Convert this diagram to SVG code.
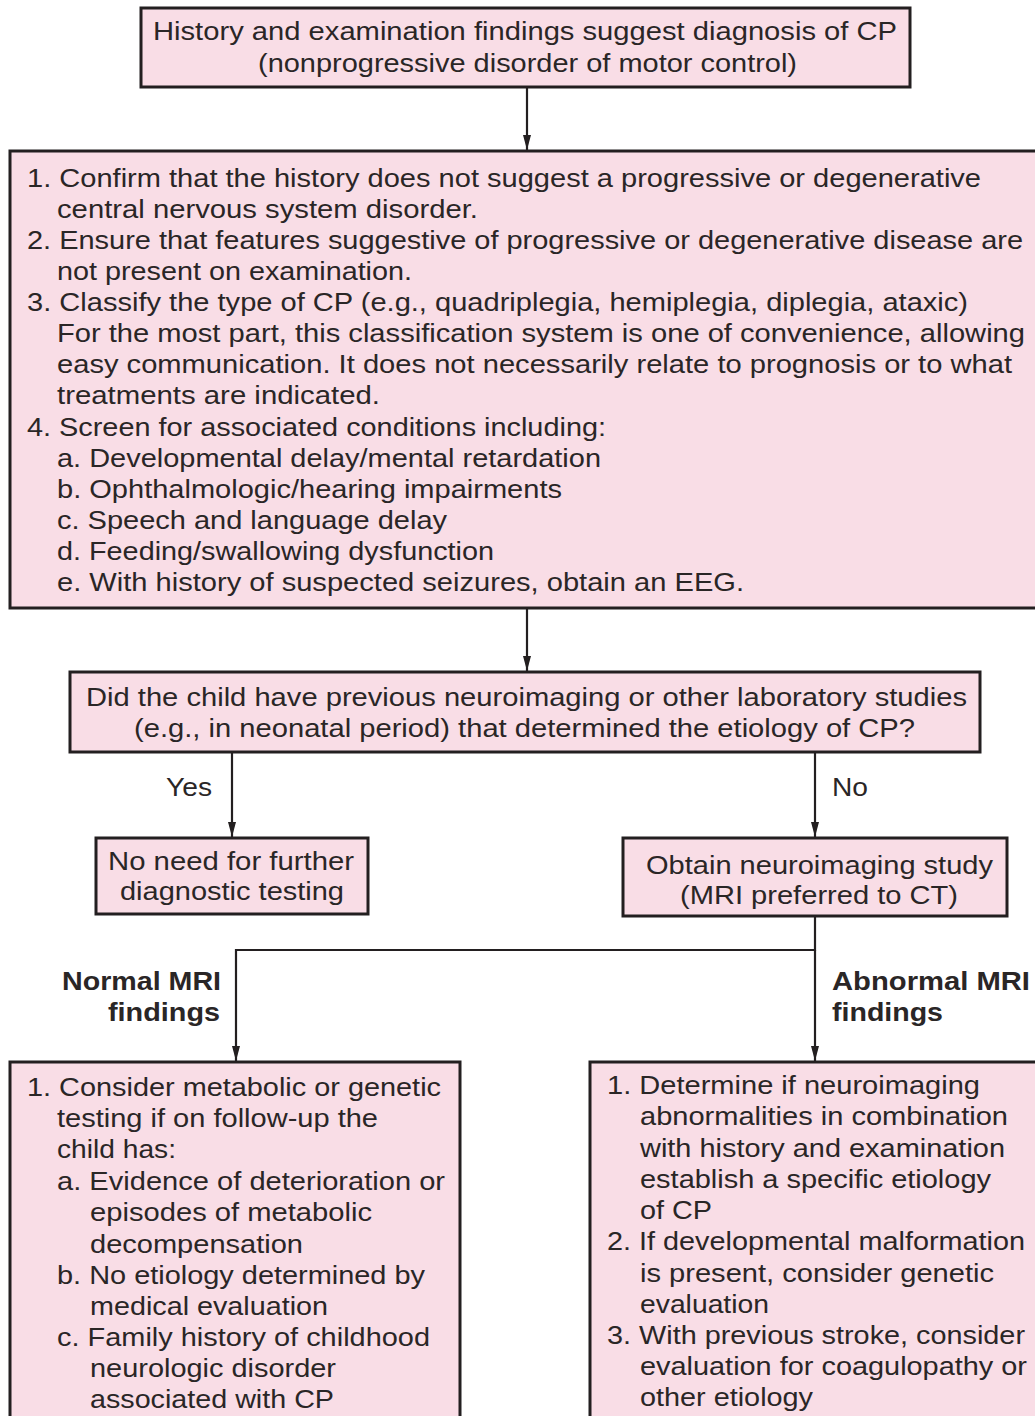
<svg xmlns="http://www.w3.org/2000/svg" width="1035" height="1416" viewBox="0 0 1035 1416">
<style>
.box{fill:#f9dde6;stroke:#231f20;stroke-width:3}
.t{font-family:"Liberation Sans",Arial,sans-serif;font-size:26px;fill:#2a2626}
.b{font-weight:bold}
.c{fill:none;stroke:#231f20;stroke-width:2.2}
</style>
<defs>
<marker id="ah" viewBox="0 -4 15 8" refX="15" refY="0" markerWidth="15" markerHeight="8" markerUnits="userSpaceOnUse" orient="auto">
<path d="M0,-4 L15,0 L0,4 z" fill="#231f20"/>
</marker>
</defs>
<rect width="1035" height="1416" fill="#ffffff"/>
<g id="connectors">
<line class="c" x1="527" y1="88" x2="527" y2="150" marker-end="url(#ah)"/>
<line class="c" x1="527" y1="609" x2="527" y2="671" marker-end="url(#ah)"/>
<line class="c" x1="232" y1="753" x2="232" y2="837" marker-end="url(#ah)"/>
<line class="c" x1="815" y1="753" x2="815" y2="837" marker-end="url(#ah)"/>
<polyline class="c" points="815,917 815,950 236,950 236,1061" marker-end="url(#ah)"/>
<line class="c" x1="815" y1="950" x2="815" y2="1061" marker-end="url(#ah)"/>
<text class="t" x="166" y="796" textLength="46" lengthAdjust="spacingAndGlyphs">Yes</text>
<text class="t" x="832" y="796" textLength="36" lengthAdjust="spacingAndGlyphs">No</text>
<text class="t b" x="62" y="990" textLength="159" lengthAdjust="spacingAndGlyphs">Normal MRI</text>
<text class="t b" x="108" y="1021" textLength="112" lengthAdjust="spacingAndGlyphs">findings</text>
<text class="t b" x="832" y="990" textLength="198" lengthAdjust="spacingAndGlyphs">Abnormal MRI</text>
<text class="t b" x="832" y="1021" textLength="111" lengthAdjust="spacingAndGlyphs">findings</text>
</g>
<g id="n1">
<rect class="box" x="141" y="8" width="769" height="79"/>
<text class="t" x="153" y="40" textLength="744" lengthAdjust="spacingAndGlyphs">History and examination findings suggest diagnosis of CP</text>
<text class="t" x="258" y="72" textLength="539" lengthAdjust="spacingAndGlyphs">(nonprogressive disorder of motor control)</text>
</g>
<g id="n2">
<rect class="box" x="10" y="151" width="1032" height="457"/>
<text class="t" x="27" y="187" textLength="954" lengthAdjust="spacingAndGlyphs">1. Confirm that the history does not suggest a progressive or degenerative</text>
<text class="t" x="57" y="218" textLength="421" lengthAdjust="spacingAndGlyphs">central nervous system disorder.</text>
<text class="t" x="27" y="249" textLength="996" lengthAdjust="spacingAndGlyphs">2. Ensure that features suggestive of progressive or degenerative disease are</text>
<text class="t" x="57" y="280" textLength="355" lengthAdjust="spacingAndGlyphs">not present on examination.</text>
<text class="t" x="27" y="311" textLength="941" lengthAdjust="spacingAndGlyphs">3. Classify the type of CP (e.g., quadriplegia, hemiplegia, diplegia, ataxic)</text>
<text class="t" x="57" y="342" textLength="968" lengthAdjust="spacingAndGlyphs">For the most part, this classification system is one of convenience, allowing</text>
<text class="t" x="57" y="373" textLength="955" lengthAdjust="spacingAndGlyphs">easy communication. It does not necessarily relate to prognosis or to what</text>
<text class="t" x="57" y="404" textLength="323" lengthAdjust="spacingAndGlyphs">treatments are indicated.</text>
<text class="t" x="27" y="436" textLength="579" lengthAdjust="spacingAndGlyphs">4. Screen for associated conditions including:</text>
<text class="t" x="57" y="467" textLength="544" lengthAdjust="spacingAndGlyphs">a. Developmental delay/mental retardation</text>
<text class="t" x="57" y="498" textLength="505" lengthAdjust="spacingAndGlyphs">b. Ophthalmologic/hearing impairments</text>
<text class="t" x="57" y="529" textLength="390" lengthAdjust="spacingAndGlyphs">c. Speech and language delay</text>
<text class="t" x="57" y="560" textLength="437" lengthAdjust="spacingAndGlyphs">d. Feeding/swallowing dysfunction</text>
<text class="t" x="57" y="591" textLength="687" lengthAdjust="spacingAndGlyphs">e. With history of suspected seizures, obtain an EEG.</text>
</g>
<g id="n3">
<rect class="box" x="70" y="672" width="910" height="80"/>
<text class="t" x="86" y="706" textLength="881" lengthAdjust="spacingAndGlyphs">Did the child have previous neuroimaging or other laboratory studies</text>
<text class="t" x="134" y="737" textLength="781" lengthAdjust="spacingAndGlyphs">(e.g., in neonatal period) that determined the etiology of CP?</text>
</g>
<g id="n4">
<rect class="box" x="96" y="838" width="272" height="76"/>
<text class="t" x="108" y="870" textLength="246" lengthAdjust="spacingAndGlyphs">No need for further</text>
<text class="t" x="120" y="900" textLength="224" lengthAdjust="spacingAndGlyphs">diagnostic testing</text>
</g>
<g id="n5">
<rect class="box" x="623" y="838" width="384" height="78"/>
<text class="t" x="646" y="874" textLength="347" lengthAdjust="spacingAndGlyphs">Obtain neuroimaging study</text>
<text class="t" x="680" y="904" textLength="278" lengthAdjust="spacingAndGlyphs">(MRI preferred to CT)</text>
</g>
<g id="n6">
<rect class="box" x="10" y="1062" width="450" height="370"/>
<text class="t" x="27" y="1096" textLength="414" lengthAdjust="spacingAndGlyphs">1. Consider metabolic or genetic</text>
<text class="t" x="57" y="1127" textLength="321" lengthAdjust="spacingAndGlyphs">testing if on follow-up the</text>
<text class="t" x="57" y="1158" textLength="119" lengthAdjust="spacingAndGlyphs">child has:</text>
<text class="t" x="57" y="1190" textLength="388" lengthAdjust="spacingAndGlyphs">a. Evidence of deterioration or</text>
<text class="t" x="90" y="1221" textLength="282" lengthAdjust="spacingAndGlyphs">episodes of metabolic</text>
<text class="t" x="90" y="1253" textLength="213" lengthAdjust="spacingAndGlyphs">decompensation</text>
<text class="t" x="57" y="1284" textLength="368" lengthAdjust="spacingAndGlyphs">b. No etiology determined by</text>
<text class="t" x="90" y="1315" textLength="238" lengthAdjust="spacingAndGlyphs">medical evaluation</text>
<text class="t" x="57" y="1346" textLength="373" lengthAdjust="spacingAndGlyphs">c. Family history of childhood</text>
<text class="t" x="90" y="1377" textLength="246" lengthAdjust="spacingAndGlyphs">neurologic disorder</text>
<text class="t" x="90" y="1408" textLength="244" lengthAdjust="spacingAndGlyphs">associated with CP</text>
</g>
<g id="n7">
<rect class="box" x="590" y="1062" width="452" height="370"/>
<text class="t" x="607" y="1094" textLength="373" lengthAdjust="spacingAndGlyphs">1. Determine if neuroimaging</text>
<text class="t" x="640" y="1125" textLength="368" lengthAdjust="spacingAndGlyphs">abnormalities in combination</text>
<text class="t" x="640" y="1157" textLength="365" lengthAdjust="spacingAndGlyphs">with history and examination</text>
<text class="t" x="640" y="1188" textLength="351" lengthAdjust="spacingAndGlyphs">establish a specific etiology</text>
<text class="t" x="640" y="1219" textLength="72" lengthAdjust="spacingAndGlyphs">of CP</text>
<text class="t" x="607" y="1250" textLength="418" lengthAdjust="spacingAndGlyphs">2. If developmental malformation</text>
<text class="t" x="640" y="1282" textLength="354" lengthAdjust="spacingAndGlyphs">is present, consider genetic</text>
<text class="t" x="640" y="1313" textLength="129" lengthAdjust="spacingAndGlyphs">evaluation</text>
<text class="t" x="607" y="1344" textLength="418" lengthAdjust="spacingAndGlyphs">3. With previous stroke, consider</text>
<text class="t" x="640" y="1375" textLength="387" lengthAdjust="spacingAndGlyphs">evaluation for coagulopathy or</text>
<text class="t" x="640" y="1406" textLength="173" lengthAdjust="spacingAndGlyphs">other etiology</text>
</g>
</svg>
